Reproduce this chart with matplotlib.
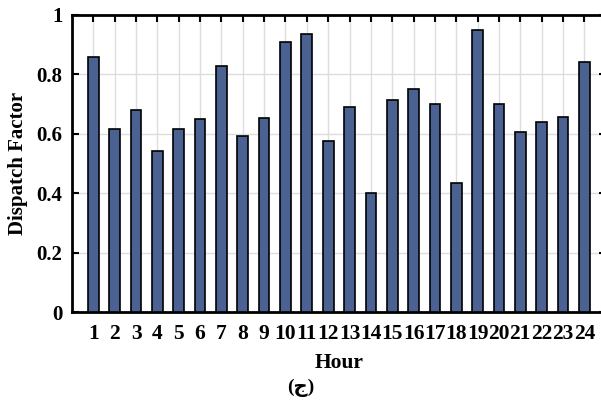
import matplotlib

matplotlib.use("Agg")
import matplotlib.pyplot as plt
import numpy as np

hours = list(range(1, 25))
dispatch = [0.857, 0.615, 0.679, 0.543, 0.617, 0.651, 0.829, 0.593, 0.653, 0.909, 0.935, 0.577,
            0.691, 0.401, 0.715, 0.751, 0.700, 0.434, 0.949, 0.699, 0.605, 0.641, 0.656, 0.841]
yticks = [0, 0.2, 0.4, 0.6, 0.8, 1]
ytick_labels = ["0", "0.2", "0.4", "0.6", "0.8", "1"]

plt.rcParams["font.family"] = ["Liberation Serif", "DejaVu Sans"]
plt.rcParams["font.weight"] = "bold"

fig = plt.figure(figsize=(6.01, 4.03), dpi=100)
ax = fig.add_axes([0.1198, 0.2258, 0.888, 0.737])

ax.bar(hours, dispatch, width=0.5, color="#4b6191", edgecolor="black", linewidth=1.2, zorder=3)
ax.set_xlim(0, 25)
ax.set_ylim(0, 1)
ax.set_xticks(hours)
ax.set_xticklabels([str(h) for h in hours], fontsize=15.5, fontweight="bold")
ax.set_yticks(yticks)
ax.set_yticklabels(ytick_labels, fontsize=15, fontweight="bold")
ax.tick_params(direction="in", top=True, right=True, length=5, width=1.5)
ax.tick_params(axis="x", pad=8.5)
ax.tick_params(axis="y", pad=7)
ax.grid(True, color="#dddddd", linewidth=1.0, zorder=0)
for s in ax.spines.values():
    s.set_linewidth(2)
ax.set_xlabel("Hour", fontsize=15.5, fontweight="bold", labelpad=6.5)
ax.set_ylabel("Dispatch Factor", fontsize=15, fontweight="bold", labelpad=6)

fig.text(0.5, 0.038, "(ج)", ha="center", va="center", fontsize=14, fontweight="bold")

fig.savefig("out.png", dpi=100)
